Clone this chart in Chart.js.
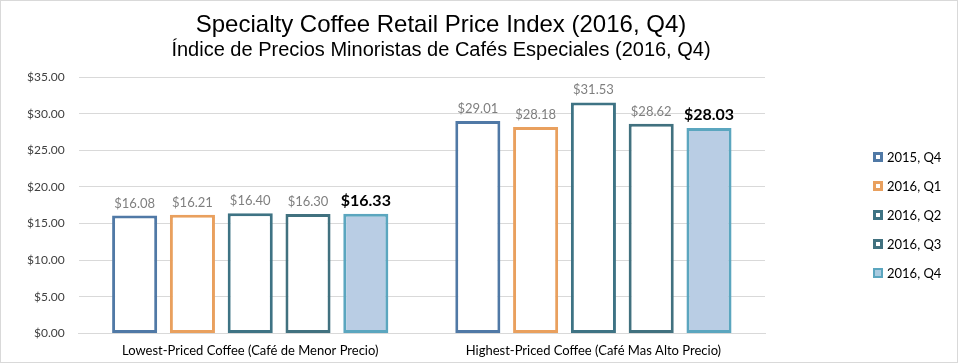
<!DOCTYPE html>
<html><head><meta charset="utf-8">
<script src="https://cdn.jsdelivr.net/npm/chart.js@4/dist/chart.umd.min.js"></script>
<style>html,body{margin:0;padding:0;background:#fff}#wrap{width:958px;height:363px;position:relative}</style>
</head><body><div id="wrap"><canvas id="c" width="958" height="363"></canvas></div>
<script>
const categories = ["Lowest-Priced Coffee (Café de Menor Precio)", "Highest-Priced Coffee (Café Mas Alto Precio)"];
const seriesNames = ["2015, Q4", "2016, Q1", "2016, Q2", "2016, Q3", "2016, Q4"];
const q4_2015 = [16.08, 29.01];
const q1_2016 = [16.21, 28.18];
const q2_2016 = [16.40, 31.53];
const q3_2016 = [16.30, 28.62];
const q4_2016 = [16.33, 28.03];
const titleLines = ["Specialty Coffee Retail Price Index (2016, Q4)", "Índice de Precios Minoristas de Cafés Especiales (2016, Q4)"];

const borders = ["#5079a6", "#e9a05e", "#3e7384", "#41717f", "#5ba6bf"];
const fills = ["#ffffff", "#ffffff", "#ffffff", "#ffffff", "#b9cde4"];
const allSeries = [q4_2015, q1_2016, q2_2016, q3_2016, q4_2016];

const fmt = v => "$" + v.toFixed(2);

const extras = {
  id: "extras",
  afterDraw(chart) {
    const ctx = chart.ctx;
    ctx.save();
    ctx.strokeStyle = "#d9d9d9"; ctx.lineWidth = 1;
    ctx.strokeRect(0.5, 0.5, chart.width - 1, chart.height - 1);
    ctx.fillStyle = "#000"; ctx.textAlign = "center"; ctx.textBaseline = "alphabetic";
    ctx.font = "24px 'Liberation Sans', Arial, sans-serif";
    ctx.fillText(titleLines[0], 441, 32);
    ctx.font = "20px 'Liberation Sans', Arial, sans-serif";
    ctx.fillText(titleLines[1], 441, 56);
    chart.data.datasets.forEach((ds, i) => {
      const meta = chart.getDatasetMeta(i);
      meta.data.forEach((bar, j) => {
        const last = i === chart.data.datasets.length - 1;
        ctx.font = last ? "bold 16px Lato, 'Open Sans', sans-serif" : "13px Lato, 'Open Sans', sans-serif";
        ctx.fillStyle = last ? "#000" : "#7f7f7f";
        ctx.textAlign = "center"; ctx.textBaseline = "alphabetic";
        ctx.fillText(fmt(ds.data[j]), bar.x, bar.y - 8);
      });
    });
    chart.data.datasets.forEach((ds, i) => {
      const y = 157 + i * 29;
      ctx.fillStyle = ds.borderColor;
      ctx.fillRect(873, y - 5, 10, 10);
      ctx.fillStyle = i === 4 ? "#a9cbe0" : "#ffffff";
      if (i === 4) ctx.fillRect(875, y - 3, 6, 6); else ctx.fillRect(876, y - 2, 4, 4);
      ctx.fillStyle = "#000";
      ctx.font = "13px Lato, 'Open Sans', sans-serif";
      ctx.textAlign = "left"; ctx.textBaseline = "middle";
      ctx.fillText(ds.label, 887, y + 1);
    });
    ctx.restore();
  }
};

new Chart(document.getElementById("c"), {
  type: "bar",
  data: {
    labels: categories,
    datasets: seriesNames.map((n, i) => ({
      label: n,
      data: allSeries[i],
      borderColor: borders[i],
      backgroundColor: fills[i],
      borderWidth: 3,
      borderSkipped: false,
      categoryPercentage: 0.842,
      barPercentage: 0.78
    }))
  },
  options: {
    responsive: false,
    animation: false,
    devicePixelRatio: 1,
    layout: { padding: { top: 77, right: 193, left: 13, bottom: -6 } },
    plugins: { legend: { display: false }, title: { display: false }, tooltip: { enabled: false } },
    scales: {
      x: {
        grid: { display: false, drawTicks: false },
        border: { display: true, color: "#d9d9d9" },
        ticks: { color: "#000", font: { family: "Lato, 'Open Sans', sans-serif", size: 13 }, padding: 10 }
      },
      y: {
        min: 0, max: 35,
        grid: { color: "#d9d9d9", drawTicks: false },
        border: { display: false },
        ticks: { stepSize: 5, color: "#404040", padding: 14, font: { family: "Lato, 'Open Sans', sans-serif", size: 12 }, callback: v => fmt(v) }
      }
    }
  },
  plugins: [extras]
});
</script></body></html>
